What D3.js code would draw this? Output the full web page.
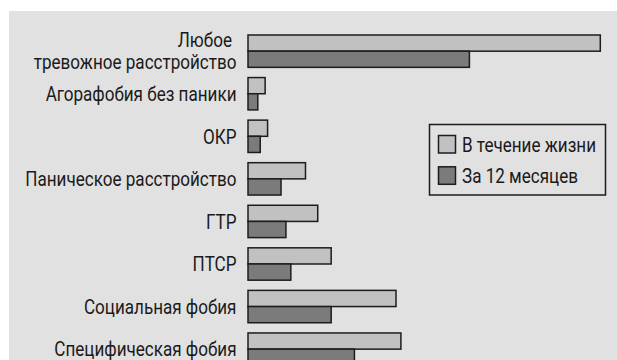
<!DOCTYPE html>
<html>
<head>
<meta charset="utf-8">
<script src="https://cdn.jsdelivr.net/npm/d3@7"></script>
<style>
  body { margin: 0; background: #fff; }
  svg { display: block; }
  text { font-family: Roboto, "Liberation Sans", sans-serif; fill: #1a1a1a; }
</style>
</head>
<body>
<svg id="chart" width="617" height="360"></svg>
<script>
// Prevalence of anxiety disorders, %
const categories = [
  "Любое\nтревожное расстройство",
  "Агорафобия без паники",
  "ОКР",
  "Паническое расстройство",
  "ГТР",
  "ПТСР",
  "Социальная фобия",
  "Специфическая фобия"
];
const seriesNames = ["В течение жизни", "За 12 месяцев"];
const lifetime = [28.8, 1.4, 1.6, 4.7, 5.7, 6.8, 12.1, 12.5];
const past12 = [18.1, 0.8, 1.0, 2.7, 3.1, 3.5, 6.8, 8.7];
const seriesColors = ["#c1c1c1", "#7b7b7b"];

const fontSize = 21;
const svg = d3.select("#chart");

// grey panel behind the chart
svg.append("rect")
  .attr("x", 9).attr("y", 11)
  .attr("width", 608).attr("height", 349)
  .attr("fill", "#e1e1e1");

// condensed lettering: squeeze the regular face horizontally
const probe = svg.append("text").attr("font-size", fontSize).text("Агорафобия без паники");
const squeeze = 191 / probe.node().getComputedTextLength();
probe.remove();

function label(parent, tx, ty, str, anchor) {
  parent.append("g")
    .attr("transform", `translate(${tx},${ty}) scale(${squeeze},1)`)
    .append("text")
    .attr("text-anchor", anchor)
    .attr("font-size", fontSize)
    .text(str);
}

const x = d3.scaleLinear().domain([0, 28.8]).range([248, 600.3]);
const y = d3.scaleBand().domain(categories).range([35, 365.3]).paddingInner(0.24).paddingOuter(0);
const ySub = d3.scaleBand().domain(seriesNames).range([0, y.bandwidth()]);
const color = d3.scaleOrdinal().domain(seriesNames).range(seriesColors);

const rows = categories.map((c, i) => ({
  cat: c,
  values: [
    { s: seriesNames[0], v: lifetime[i] },
    { s: seriesNames[1], v: past12[i] }
  ]
}));

const row = svg.append("g").selectAll("g.row").data(rows).join("g")
  .attr("class", "row")
  .attr("transform", d => `translate(0,${y(d.cat)})`);

row.selectAll("rect").data(d => d.values).join("rect")
  .attr("x", x(0))
  .attr("y", d => ySub(d.s))
  .attr("width", d => x(d.v) - x(0))
  .attr("height", ySub.bandwidth())
  .attr("fill", d => color(d.s))
  .attr("stroke", "#1c1c1c")
  .attr("stroke-width", 1.5);

// category labels, right-aligned left of the bars
const labelX = 236.5;
row.each(function(d) {
  const lines = d.cat.split("\n");
  const mid = y.bandwidth() / 2;
  const sel = d3.select(this);
  if (lines.length === 1) {
    label(sel, labelX, mid + 7.3, lines[0], "end");
  } else {
    label(sel, labelX - 4.5, mid - 4.3, lines[0], "end");
    label(sel, labelX, mid + 18.3, lines[1], "end");
  }
});

// legend
const legend = svg.append("g");
legend.append("rect")
  .attr("x", 429.5).attr("y", 124.5)
  .attr("width", 176).attr("height", 70.5)
  .attr("fill", "#e1e1e1")
  .attr("stroke", "#1c1c1c").attr("stroke-width", 1.5);

const item = legend.selectAll("g.item").data(seriesNames).join("g")
  .attr("class", "item")
  .attr("transform", (d, i) => `translate(438.5,${135.5 + i * 31.3})`);
item.append("rect")
  .attr("width", 17).attr("height", 17.5)
  .attr("fill", d => color(d))
  .attr("stroke", "#1c1c1c").attr("stroke-width", 1.5);
item.each(function(d) {
  label(d3.select(this), 23.5, 16.3, d, "start");
});
</script>
</body>
</html>
